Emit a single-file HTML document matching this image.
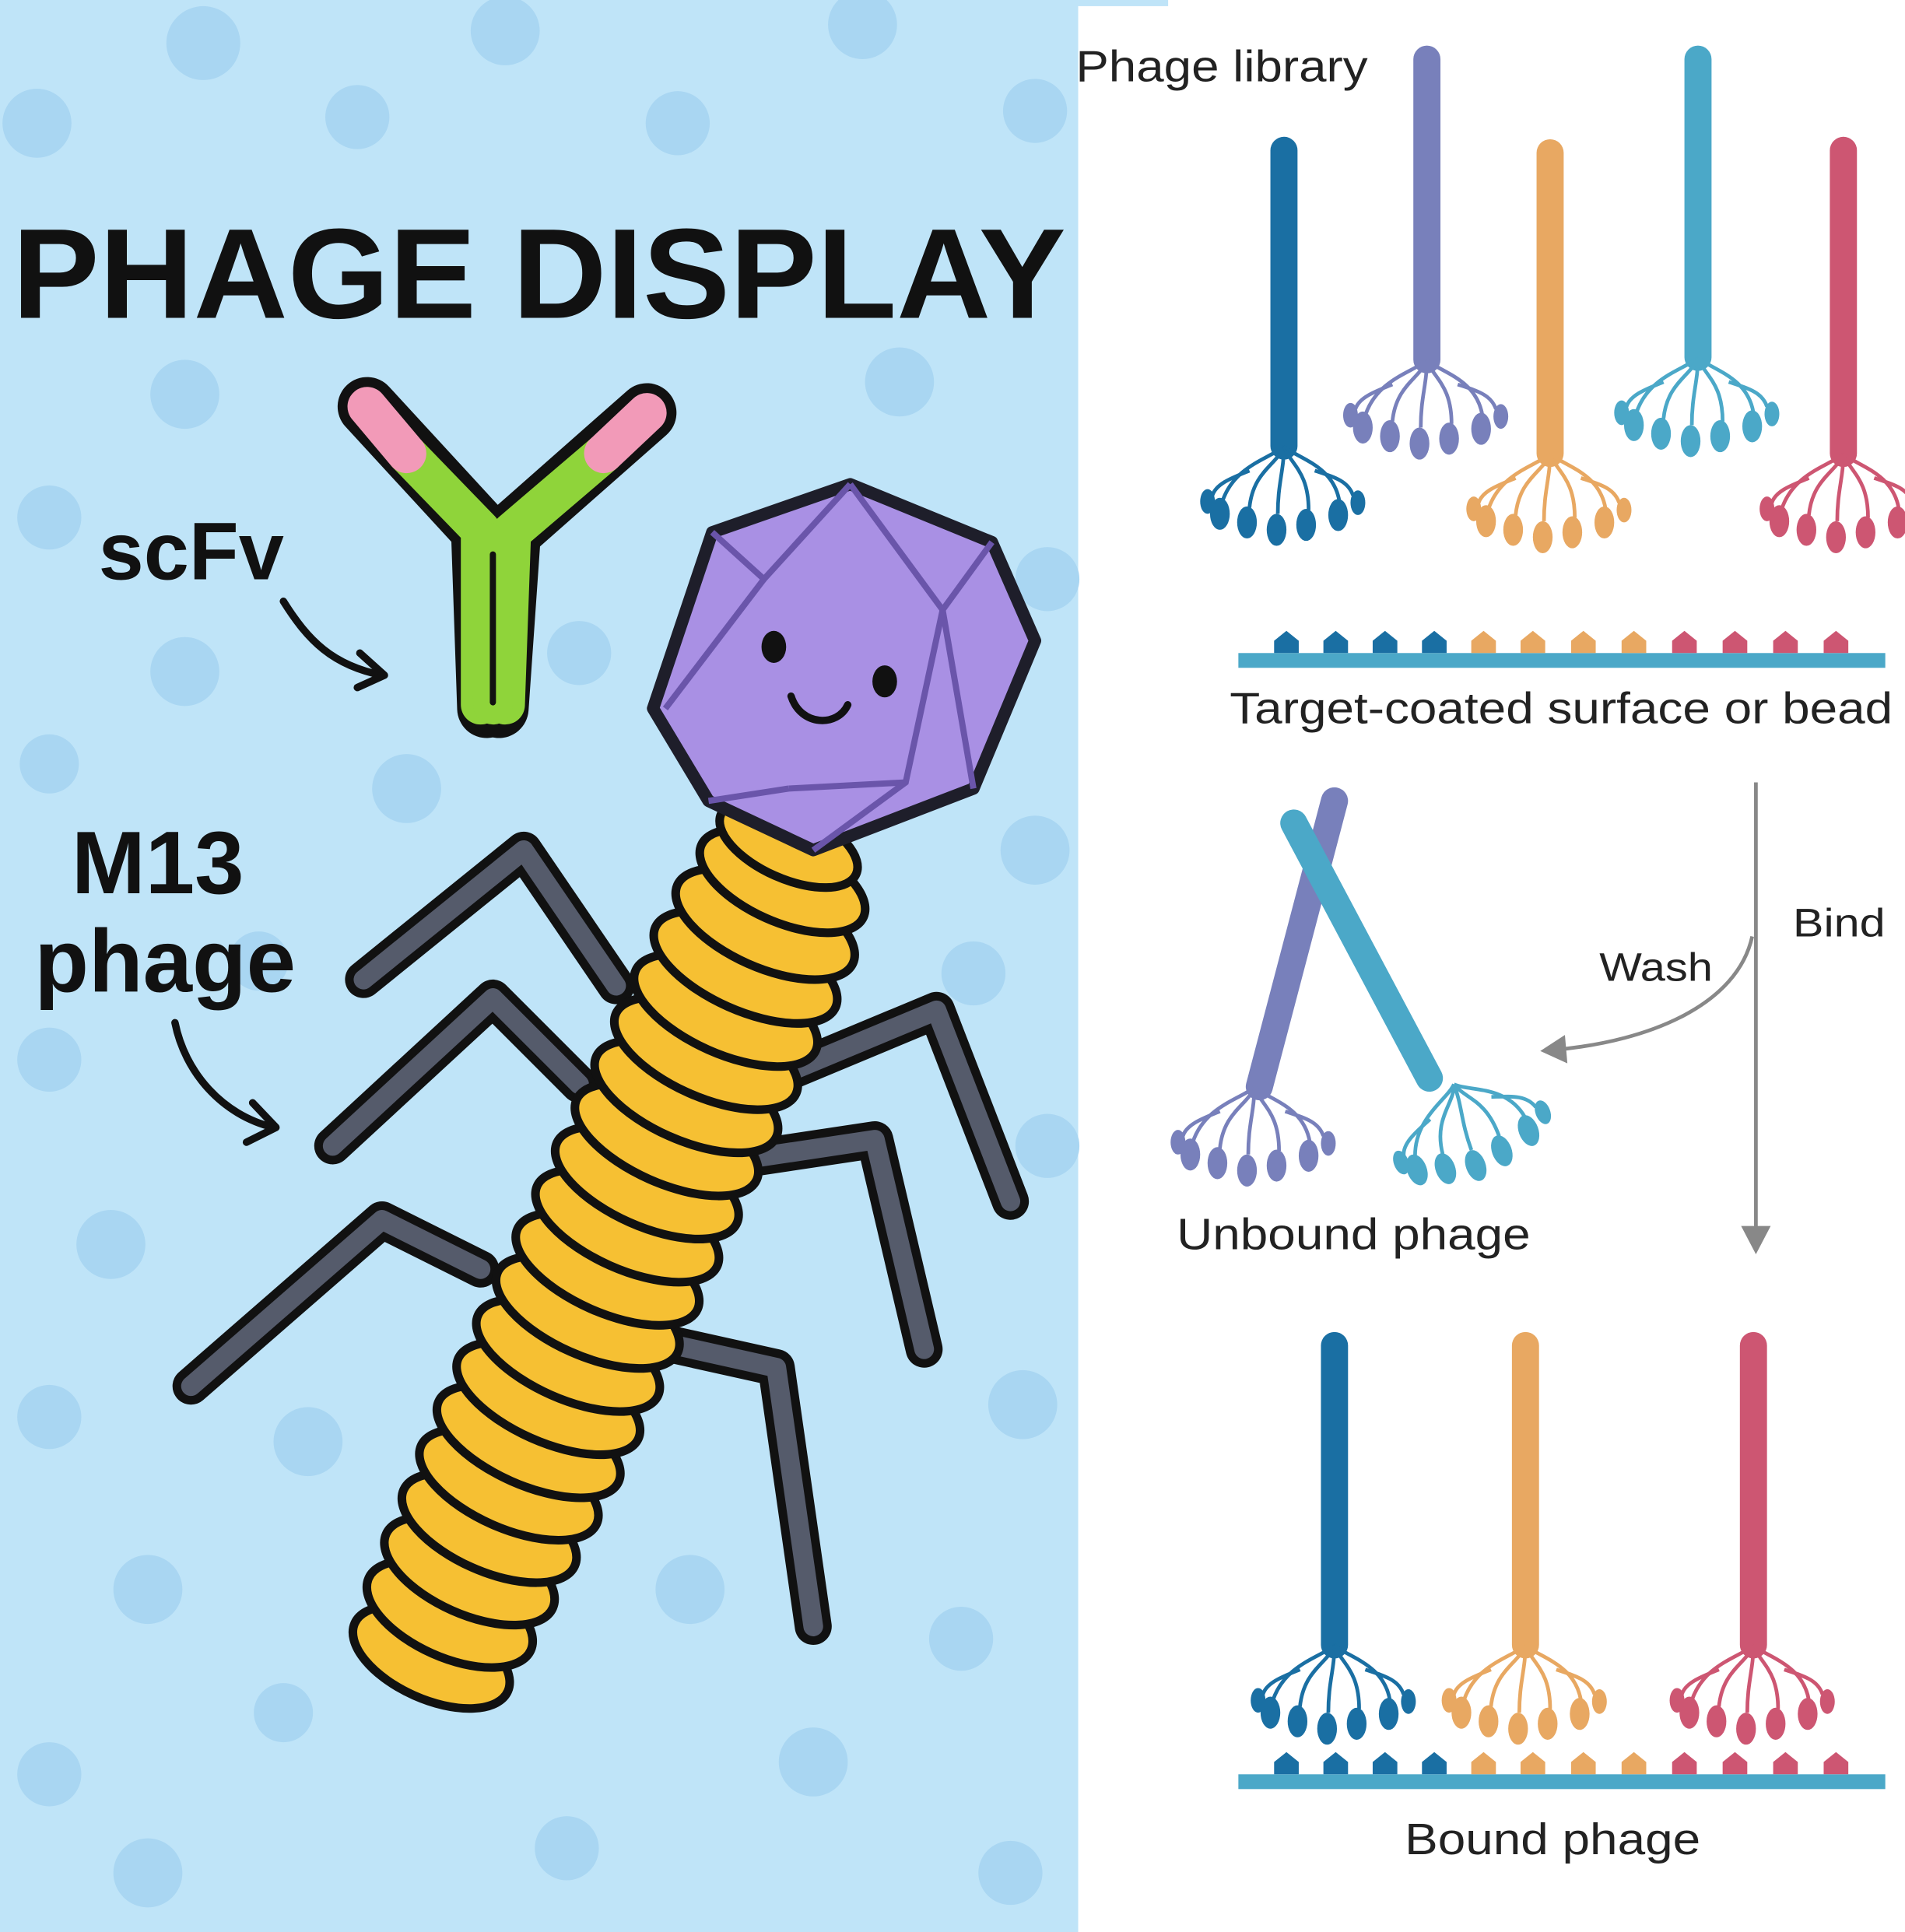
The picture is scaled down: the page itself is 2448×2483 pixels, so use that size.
<!DOCTYPE html>
<html><head><meta charset="utf-8"><style>
html,body{margin:0;padding:0;background:#fff;}
svg{display:block;}
</style></head><body>
<svg width="2448" height="2483" viewBox="0 0 1546 1568" preserveAspectRatio="none" xmlns="http://www.w3.org/2000/svg">
<defs>
<g id="tail">
  <g fill="none" stroke="currentColor" stroke-width="3">
    <path d="M0,0 C-10,10 -40,15 -50,45"/>
    <path d="M0,0 C-5,15 -25,20 -28,50"/>
    <path d="M0,0 C0,20 -5,30 -5,55"/>
    <path d="M0,0 C5,15 20,20 20,52"/>
    <path d="M0,0 C10,10 40,15 45,45"/>
    <path d="M-28,20 C-40,25 -55,30 -58,40"/>
    <path d="M25,20 C40,25 52,28 56,40"/>
  </g>
  <g fill="currentColor">
    <ellipse cx="-52" cy="55" rx="8" ry="13"/>
    <ellipse cx="-30" cy="62" rx="8" ry="13"/>
    <ellipse cx="-6" cy="68" rx="8" ry="13"/>
    <ellipse cx="18" cy="64" rx="8" ry="13"/>
    <ellipse cx="44" cy="56" rx="8" ry="13"/>
    <ellipse cx="-62" cy="45" rx="6" ry="10"/>
    <ellipse cx="60" cy="46" rx="6" ry="10"/>
  </g>
</g>
<path id="tri" d="M-10,0 L-10,-10 L0,-18 L10,-10 L10,0 Z"/>
</defs>

<!-- LEFT PANEL -->
<rect x="0" y="0" width="875" height="1568" fill="#bfe4f8"/>
<g fill="#a9d6f2">
  <circle cx="165" cy="35" r="30"/><circle cx="410" cy="25" r="28"/><circle cx="700" cy="20" r="28"/>
  <circle cx="30" cy="100" r="28"/><circle cx="290" cy="95" r="26"/><circle cx="550" cy="100" r="26"/><circle cx="840" cy="90" r="26"/>
  <circle cx="150" cy="320" r="28"/><circle cx="730" cy="310" r="28"/><circle cx="40" cy="420" r="26"/>
  <circle cx="150" cy="545" r="28"/><circle cx="470" cy="530" r="26"/><circle cx="850" cy="470" r="26"/>
  <circle cx="330" cy="640" r="28"/><circle cx="40" cy="620" r="24"/><circle cx="840" cy="690" r="28"/>
  <circle cx="40" cy="860" r="26"/><circle cx="210" cy="780" r="24"/><circle cx="790" cy="790" r="26"/>
  <circle cx="90" cy="1010" r="28"/><circle cx="850" cy="930" r="26"/><circle cx="480" cy="1010" r="24"/>
  <circle cx="40" cy="1150" r="26"/><circle cx="250" cy="1170" r="28"/><circle cx="830" cy="1140" r="28"/>
  <circle cx="120" cy="1290" r="28"/><circle cx="560" cy="1290" r="28"/><circle cx="780" cy="1330" r="26"/>
  <circle cx="40" cy="1440" r="26"/><circle cx="230" cy="1390" r="24"/><circle cx="660" cy="1430" r="28"/>
  <circle cx="120" cy="1520" r="28"/><circle cx="460" cy="1500" r="26"/><circle cx="820" cy="1520" r="26"/>
</g>

<text x="10" y="258" font-family="Liberation Sans, sans-serif" font-weight="bold" font-size="104" fill="#111" textLength="855" lengthAdjust="spacingAndGlyphs">PHAGE DISPLAY</text>

<!-- antibody -->
<g stroke-linecap="round" stroke-linejoin="round">
  <g stroke="#111" stroke-width="48" fill="none">
    <path d="M298,330 L390,430 L395,575"/><path d="M525,335 L415,432 L405,575"/>
  </g>
  <g stroke="#8fd43a" stroke-width="32" fill="none">
    <path d="M330,368 L390,430 L390,572"/><path d="M490,368 L415,432 L410,572"/>
    <path d="M395,440 L400,572"/>
  </g>
  <g stroke="#f29ab8" stroke-width="32" fill="none">
    <path d="M298,330 L330,368"/><path d="M525,335 L490,368"/>
  </g>
  <path d="M400,450 L400,570" stroke="#111" stroke-width="5"/>
</g>
<text x="80" y="470" font-family="Liberation Sans, sans-serif" font-weight="bold" font-size="66" fill="#111">scFv</text>
<path d="M230,488 C250,520 270,540 310,548" fill="none" stroke="#111" stroke-width="6" stroke-linecap="round"/>
<path d="M292,530 L312,548 L290,558" fill="none" stroke="#111" stroke-width="6" stroke-linecap="round" stroke-linejoin="round"/>

<text x="58" y="725" font-family="Liberation Sans, sans-serif" font-weight="bold" font-size="72" fill="#111">M13</text>
<text x="28" y="805" font-family="Liberation Sans, sans-serif" font-weight="bold" font-size="72" fill="#111">phage</text>
<path d="M142,830 C150,870 180,905 222,915" fill="none" stroke="#111" stroke-width="6" stroke-linecap="round"/>
<path d="M205,895 L224,915 L200,927" fill="none" stroke="#111" stroke-width="6" stroke-linecap="round" stroke-linejoin="round"/>

<!-- legs -->
<g fill="none" stroke-linecap="round" stroke-linejoin="round">
  <g stroke="#111" stroke-width="30">
    <path d="M295,795 L425,690 L500,800"/><path d="M270,930 L400,810 L470,880"/>
    <path d="M155,1125 L310,990 L390,1030"/><path d="M640,870 L760,820 L820,975"/>
    <path d="M610,940 L710,925 L750,1095"/><path d="M540,1090 L630,1110 L660,1320"/>
  </g>
  <g stroke="#555b6b" stroke-width="16">
    <path d="M295,795 L425,690 L500,800"/><path d="M270,930 L400,810 L470,880"/>
    <path d="M155,1125 L310,990 L390,1030"/><path d="M640,870 L760,820 L820,975"/>
    <path d="M610,940 L710,925 L750,1095"/><path d="M540,1090 L630,1110 L660,1320"/>
  </g>
</g>

<!-- coil body -->
<g fill="#f6c033" stroke="#111" stroke-width="7">
  <ellipse cx="350" cy="1345" rx="68" ry="34" transform="rotate(24 350 1345)"/>
  <ellipse cx="365" cy="1310" rx="72" ry="35" transform="rotate(24 365 1310)"/>
  <ellipse cx="381" cy="1275" rx="74" ry="35" transform="rotate(24 381 1275)"/>
  <ellipse cx="397" cy="1240" rx="76" ry="35" transform="rotate(24 397 1240)"/>
  <ellipse cx="413" cy="1205" rx="78" ry="35" transform="rotate(24 413 1205)"/>
  <ellipse cx="429" cy="1170" rx="80" ry="35" transform="rotate(24 429 1170)"/>
  <ellipse cx="445" cy="1135" rx="80" ry="35" transform="rotate(24 445 1135)"/>
  <ellipse cx="461" cy="1100" rx="80" ry="35" transform="rotate(24 461 1100)"/>
  <ellipse cx="477" cy="1065" rx="80" ry="35" transform="rotate(24 477 1065)"/>
  <ellipse cx="493" cy="1030" rx="80" ry="35" transform="rotate(24 493 1030)"/>
  <ellipse cx="509" cy="995" rx="80" ry="35" transform="rotate(24 509 995)"/>
  <ellipse cx="525" cy="960" rx="80" ry="35" transform="rotate(24 525 960)"/>
  <ellipse cx="541" cy="925" rx="80" ry="35" transform="rotate(24 541 925)"/>
  <ellipse cx="557" cy="890" rx="80" ry="35" transform="rotate(24 557 890)"/>
  <ellipse cx="573" cy="855" rx="80" ry="35" transform="rotate(24 573 855)"/>
  <ellipse cx="589" cy="820" rx="80" ry="35" transform="rotate(24 589 820)"/>
  <ellipse cx="605" cy="785" rx="80" ry="35" transform="rotate(24 605 785)"/>
  <ellipse cx="621" cy="750" rx="78" ry="35" transform="rotate(24 621 750)"/>
  <ellipse cx="635" cy="715" rx="72" ry="33" transform="rotate(24 635 715)"/>
  <ellipse cx="640" cy="685" rx="60" ry="28" transform="rotate(24 640 685)"/>
</g>

<!-- head -->
<polygon points="530,575 578,432 690,393 805,440 840,520 790,640 660,690 575,650" fill="#a990e4" stroke="#1e1e2a" stroke-width="10" stroke-linejoin="round"/>
<g fill="none" stroke="#6a55aa" stroke-width="5">
  <path d="M578,432 L620,470 L690,393"/><path d="M620,470 L540,575"/><path d="M690,393 L765,495 L805,440"/>
  <path d="M765,495 L790,640"/><path d="M765,495 L735,635 L660,690"/><path d="M640,640 L735,635"/><path d="M640,640 L575,650"/>
</g>
<ellipse cx="628" cy="525" rx="10" ry="13" fill="#111"/>
<ellipse cx="718" cy="553" rx="10" ry="13" fill="#111"/>
<path d="M642,565 C650,590 680,590 688,572" fill="none" stroke="#111" stroke-width="6" stroke-linecap="round"/>

<!-- RIGHT PANEL -->
<rect x="875" y="0" width="73" height="5" fill="#bfe4f8"/>
<text x="873" y="66" font-family="Liberation Sans, sans-serif" font-size="36" fill="#222" textLength="237" lengthAdjust="spacingAndGlyphs">Phage library</text>

<g stroke-linecap="round">
  <line x1="1042" y1="122" x2="1042" y2="362" stroke="#1a6fa3" stroke-width="22"/>
  <line x1="1158" y1="48" x2="1158" y2="292" stroke="#7880bb" stroke-width="22"/>
  <line x1="1258" y1="124" x2="1258" y2="368" stroke="#e8a862" stroke-width="22"/>
  <line x1="1378" y1="48" x2="1378" y2="290" stroke="#4ba8c8" stroke-width="22"/>
  <line x1="1496" y1="122" x2="1496" y2="368" stroke="#cd5672" stroke-width="22"/>
</g>
<use href="#tail" x="1042" y="362" color="#1a6fa3"/>
<use href="#tail" x="1158" y="292" color="#7880bb"/>
<use href="#tail" x="1258" y="368" color="#e8a862"/>
<use href="#tail" x="1378" y="290" color="#4ba8c8"/>
<use href="#tail" x="1496" y="368" color="#cd5672"/>

<rect x="1005" y="530" width="525" height="12" fill="#4ba8c8"/>
<g fill="#1a6fa3"><use href="#tri" x="1044" y="530"/><use href="#tri" x="1084" y="530"/><use href="#tri" x="1124" y="530"/><use href="#tri" x="1164" y="530"/></g>
<g fill="#e8a862"><use href="#tri" x="1204" y="530"/><use href="#tri" x="1244" y="530"/><use href="#tri" x="1285" y="530"/><use href="#tri" x="1326" y="530"/></g>
<g fill="#cd5672"><use href="#tri" x="1367" y="530"/><use href="#tri" x="1408" y="530"/><use href="#tri" x="1449" y="530"/><use href="#tri" x="1490" y="530"/></g>
<text x="998" y="587" font-family="Liberation Sans, sans-serif" font-size="36" fill="#222" textLength="538" lengthAdjust="spacingAndGlyphs">Target-coated surface or bead</text>

<line x1="1425" y1="635" x2="1425" y2="1000" stroke="#888" stroke-width="3"/>
<path d="M1413,995 L1425,1018 L1437,995 Z" fill="#888"/>
<text x="1455" y="760" font-family="Liberation Sans, sans-serif" font-size="32" fill="#222" textLength="75" lengthAdjust="spacingAndGlyphs">Bind</text>
<path d="M1422,760 C1410,815 1340,845 1262,852" fill="none" stroke="#888" stroke-width="3"/>
<path d="M1270,840 L1250,853 L1272,863 Z" fill="#888"/>
<text x="1298" y="796" font-family="Liberation Sans, sans-serif" font-size="32" fill="#222" textLength="92" lengthAdjust="spacingAndGlyphs">Wash</text>

<g stroke-linecap="round">
  <line x1="1083" y1="650" x2="1022" y2="882" stroke="#7880bb" stroke-width="22"/>
  <line x1="1050" y1="668" x2="1160" y2="875" stroke="#4ba8c8" stroke-width="22"/>
</g>
<use href="#tail" x="1018" y="882" color="#7880bb"/>
<use href="#tail" x="1180" y="880" color="#4ba8c8" transform="rotate(-20 1180 880)"/>
<text x="955" y="1014" font-family="Liberation Sans, sans-serif" font-size="36" fill="#222" textLength="287" lengthAdjust="spacingAndGlyphs">Unbound phage</text>

<g stroke-linecap="round">
  <line x1="1083" y1="1092" x2="1083" y2="1335" stroke="#1a6fa3" stroke-width="22"/>
  <line x1="1238" y1="1092" x2="1238" y2="1335" stroke="#e8a862" stroke-width="22"/>
  <line x1="1423" y1="1092" x2="1423" y2="1335" stroke="#cd5672" stroke-width="22"/>
</g>
<use href="#tail" x="1083" y="1335" color="#1a6fa3"/>
<use href="#tail" x="1238" y="1335" color="#e8a862"/>
<use href="#tail" x="1423" y="1335" color="#cd5672"/>
<rect x="1005" y="1440" width="525" height="12" fill="#4ba8c8"/>
<g fill="#1a6fa3"><use href="#tri" x="1044" y="1440"/><use href="#tri" x="1084" y="1440"/><use href="#tri" x="1124" y="1440"/><use href="#tri" x="1164" y="1440"/></g>
<g fill="#e8a862"><use href="#tri" x="1204" y="1440"/><use href="#tri" x="1244" y="1440"/><use href="#tri" x="1285" y="1440"/><use href="#tri" x="1326" y="1440"/></g>
<g fill="#cd5672"><use href="#tri" x="1367" y="1440"/><use href="#tri" x="1408" y="1440"/><use href="#tri" x="1449" y="1440"/><use href="#tri" x="1490" y="1440"/></g>
<text x="1140" y="1505" font-family="Liberation Sans, sans-serif" font-size="36" fill="#222" textLength="240" lengthAdjust="spacingAndGlyphs">Bound phage</text>
</svg>
</body></html>
